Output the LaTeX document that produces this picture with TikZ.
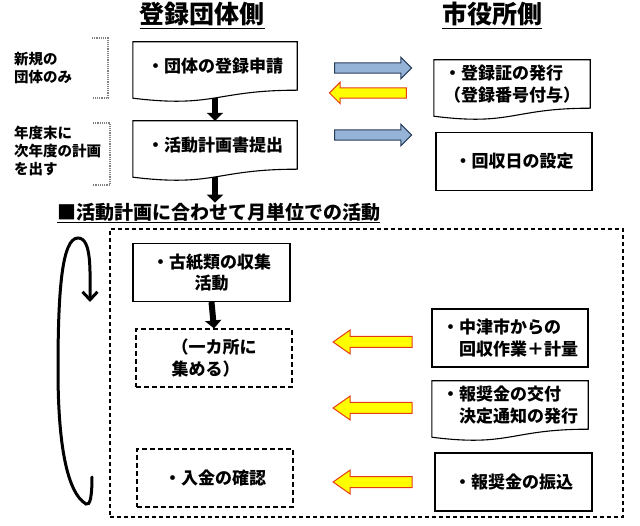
\documentclass[tikz,border=0pt]{standalone}
\usepackage{fontspec}
\setmainfont{Noto Sans CJK JP}
\usetikzlibrary{arrows.meta,shapes.arrows}

\definecolor{paleblue}{RGB}{149,179,215}
\definecolor{navyline}{RGB}{40,60,90}
\definecolor{brightyellow}{RGB}{255,255,0}
\definecolor{redline}{RGB}{228,60,20}

\newcommand\titlefont{\fontsize{25}{30}\selectfont\bfseries}
\newcommand\headfont{\fontsize{19}{23}\selectfont\bfseries}
\newcommand\boxfont{\fontsize{17}{21.5}\selectfont\bfseries}
\newcommand\sidefont{\fontsize{14.5}{18}\selectfont\bfseries}
% outline of a "document" box: wavy bottom below the node
\newcommand\docframe[1]{\draw[frame] ([yshift=-8pt]#1.south west) -- (#1.north west) -- (#1.north east) -- (#1.south east) .. controls (#1.south) and ([yshift=-18pt]#1.south) .. ([yshift=-8pt]#1.south west) -- cycle;}

\begin{document}
\begin{tikzpicture}[x=1pt,y=-1pt,
  frame/.style={line width=1.1pt},
  titletext/.style={anchor=base,font=\titlefont},
  headtext/.style={anchor=west,inner sep=0pt,font=\headfont},
  sidetext/.style={anchor=west,inner sep=0pt,align=left,font=\sidefont},
  docbox/.style={minimum width=156pt,minimum height=48pt,inner sep=0pt,align=left,font=\boxfont},
  plainbox/.style={frame,draw,minimum width=156pt,minimum height=58pt,inner sep=0pt,align=left,font=\boxfont},
  dashbox/.style={plainbox,dash pattern=on 5pt off 3pt},
  outerbox/.style={draw,line width=1.2pt,dash pattern=on 4pt off 3pt,inner sep=0pt},
  bluearrow/.style={single arrow,draw=navyline,fill=paleblue,line width=1pt,inner xsep=0pt,inner ysep=4.6pt,
    minimum height=77pt,minimum width=20pt,single arrow head extend=5.5pt,single arrow head indent=0pt},
  yellowarrow/.style={bluearrow,draw=redline,fill=brightyellow,shape border rotate=180},
  longyellow/.style={yellowarrow,inner ysep=5pt,minimum height=79pt,minimum width=23pt,single arrow head extend=6.5pt,single arrow tip angle=70},
  downflow/.style={line width=6pt,-{Triangle[length=8pt,width=16pt]}},
  sidebracket/.style={gray,line width=1.2pt,densely dotted},
  roundtrip/.style={line width=3pt,line cap=round,-{Straight Barb[length=8pt,width=15pt]}}]
\useasboundingbox (0,0) rectangle (640,526);

% column titles
\node[titletext] (orgtitle) at (202,24) {\underline{登録団体側}};
\node[titletext] (citytitle) at (492,24) {\underline{市役所側}};

% notes on the left
\node[sidetext] (newonly) at (14,68) {新規の\\団体のみ};
\node[sidetext] (yearend) at (14,151) {年度末に\\次年度の計画\\を出す};
\draw[sidebracket] (92,38) -- (108,38) -- (108,98) -- (92,98);
\draw[sidebracket] (93,123) -- (110,123) -- (110,185) -- (93,185);

% registration
\node[docbox,minimum width=164pt] (reg) at (215,66) {・団体の登録申請};
\node[docbox,minimum width=164pt] (plan) at (215,145) {・活動計画書提出};
\node[docbox] (cert) at (512,84) {・登録証の発行\\（登録番号付与）};
\node[plainbox] (setday) at (514,161.5) {・回収日の設定};
\docframe{reg}
\docframe{plan}
\docframe{cert}

\node[bluearrow] (send1) at (370.5,68) {};
\node[yellowarrow] (back1) at (370.5,93) {};
\node[bluearrow] (send2) at (370.5,135) {};

\draw[downflow] ([yshift=-8pt]reg.south) -- (plan.north);

% monthly activity
\node[headtext] (monthly) at (57,213) {\underline{■活動計画に合わせて月単位での活動}};
\draw[downflow] ([yshift=-8pt]plan.south) -- (plan.south |- monthly.north);
\node[outerbox,minimum width=513pt,minimum height=288pt] (monthbox) at (366.5,373) {};

\node[plainbox,minimum width=157pt,align=center] (collect) at (211.5,272.5) {・古紙類の収集\\活動};
\node[dashbox] (gather) at (214,358) {（一カ所に\\集める）};
\node[dashbox] (confirm) at (215,478) {・入金の確認};
\draw[downflow] (collect.south) -- (gather.north);

\node[plainbox] (nakatsu) at (510,338) {・中津市からの\\\phantom{・}回収作業＋計量};
\node[docbox] (notice) at (510,405) {・報奨金の交付\\\phantom{・}決定通知の発行};
\node[plainbox,minimum width=157pt] (transfer) at (513.5,482) {・報奨金の振込};
\docframe{notice}

\node[longyellow] (back2) at (376.5,342) {};
\node[longyellow] (back3) at (376.5,408) {};
\node[longyellow] (back4) at (376.5,482) {};

% repeat every month
\draw[roundtrip] (92,477) .. controls (92,497) and (90,506) .. (86,504) .. controls (66,492) and (58,440) .. (58,370) .. controls (58,290) and (62,238) .. (78,238) .. controls (92,238) and (90,272) .. (90,302);
\end{tikzpicture}
\end{document}
